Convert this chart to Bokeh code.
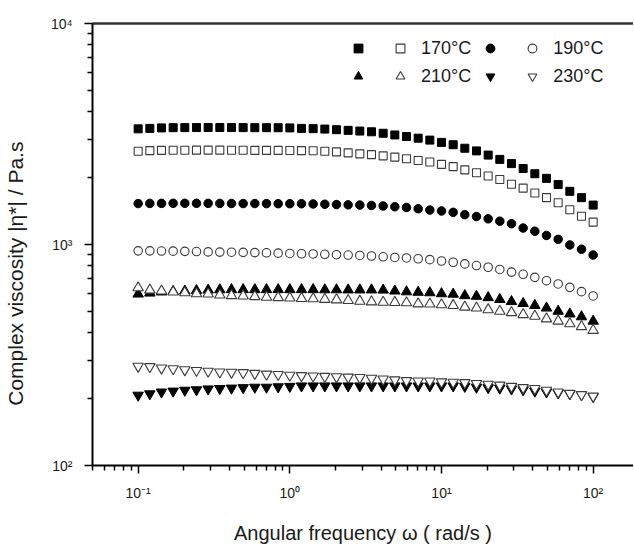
from bokeh.plotting import figure
from bokeh.models import (LogAxis, FixedTicker, CustomJSTickFormatter, Legend,
                          LegendItem, Range1d, ColumnDataSource)
from bokeh.core.properties import value
from bokeh.embed import file_html
from bokeh.resources import INLINE

# ---------------- data ----------------
omega = [0.1, 0.1194, 0.1425, 0.1701, 0.2031, 0.2424, 0.2894, 0.3455, 0.4125, 0.4924,
         0.5878, 0.7017, 0.8377, 1.0, 1.194, 1.425, 1.701, 2.031, 2.424, 2.894,
         3.455, 4.125, 4.924, 5.878, 7.017, 8.377, 10.0, 11.94, 14.25, 17.01,
         20.31, 24.24, 28.94, 34.55, 41.25, 49.24, 58.78, 70.17, 83.77, 100.0]

eta_170_filled = [3336, 3353, 3370, 3378, 3380, 3382, 3384, 3384, 3382, 3380,
                  3378, 3378, 3376, 3370, 3353, 3343, 3329, 3308, 3285, 3261,
                  3236, 3187, 3131, 3081, 3028, 2967, 2898, 2828, 2726, 2652,
                  2538, 2427, 2323, 2207, 2090, 1992, 1868, 1740, 1629, 1508]
eta_170_open = [2644, 2660, 2665, 2668, 2670, 2672, 2672, 2672, 2670, 2668,
                2666, 2665, 2665, 2663, 2660, 2657, 2644, 2625, 2598, 2572,
                2551, 2519, 2486, 2443, 2401, 2362, 2305, 2252, 2177, 2112,
                2040, 1967, 1874, 1799, 1710, 1629, 1544, 1437, 1342, 1262]
eta_190_filled = [1532, 1534, 1535, 1536, 1536, 1536, 1535, 1534, 1533, 1532,
                  1532, 1531, 1530, 1530, 1529, 1526, 1521, 1516, 1512, 1508,
                  1502, 1494, 1482, 1471, 1452, 1432, 1418, 1398, 1365, 1338,
                  1307, 1275, 1242, 1187, 1148, 1099, 1055, 995, 952, 896]
eta_190_open = [936, 936, 934, 933, 931, 929, 926, 924, 923, 921,
                919, 917, 914, 911, 908, 906, 903, 899, 896, 892,
                887, 880, 874, 869, 862, 854, 842, 831, 817, 803,
                789, 771, 750, 733, 710, 686, 663, 640, 612, 585]
eta_210_filled = [597, 603, 610, 613, 616, 619, 622, 624, 625, 625,
                  625, 625, 625, 625, 625, 625, 624, 624, 623, 623,
                  623, 622, 616, 611, 608, 605, 599, 596, 587, 583,
                  575, 564, 552, 541, 530, 516, 499, 485, 471, 450]
eta_210_open = [637, 622, 616, 610, 605, 599, 597, 591, 587, 585,
                581, 577, 575, 573, 570, 568, 565, 562, 558, 554,
                550, 548, 547, 545, 539, 538, 534, 530, 521, 516,
                507, 499, 492, 482, 474, 461, 450, 438, 425, 409]
eta_230_filled = [208, 211, 215, 217, 219, 220, 222, 223, 224, 225,
                  226, 226, 227, 228, 229, 229, 229, 229, 229, 229,
                  229, 229, 229, 229, 229, 229, 229, 229, 228, 226,
                  225, 224, 222, 220, 217, 215, 213, 211, 209, 205]
eta_230_open = [281, 280, 276, 274, 271, 269, 267, 265, 264, 263,
                261, 259, 258, 256, 255, 254, 253, 252, 251, 250,
                248, 246, 244, 242, 241, 241, 239, 238, 237, 235,
                233, 231, 228, 225, 223, 219, 215, 212, 209, 206]

legend_labels = ["170\u00b0C", "190\u00b0C", "210\u00b0C", "230\u00b0C"]
x_major = [0.1, 1, 10, 100]
y_major = [100, 1000, 10000]

# ---------------- figure ----------------
FONT = "Liberation Sans"

p = figure(width=633, height=546, output_backend="svg", toolbar_location=None,
           x_axis_type="log", y_axis_type="log",
           x_range=Range1d(0.05, 184.5), y_range=Range1d(100, 10000),
           min_border_left=84, min_border_right=0, min_border_top=23,
           min_border_bottom=72)
p.outline_line_color = None
p.xgrid.visible = False
p.ygrid.visible = False
p.background_fill_color = "white"
p.border_fill_color = "white"

src = ColumnDataSource(dict(x=omega,
                            s170f=eta_170_filled, s170o=eta_170_open,
                            s190f=eta_190_filled, s190o=eta_190_open,
                            s210f=eta_210_filled, s210o=eta_210_open,
                            s230f=eta_230_filled, s230o=eta_230_open))

OPEN_LINE = "#3a3a3a"
r1f = p.scatter("x", "s170f", source=src, marker="square", size=8,
                fill_color="black", line_color="black")
r1o = p.scatter("x", "s170o", source=src, marker="square", size=8,
                fill_color="white", line_color=OPEN_LINE, line_width=1.1)
r2f = p.scatter("x", "s190f", source=src, marker="circle", size=8.5,
                fill_color="black", line_color="black")
r2o = p.scatter("x", "s190o", source=src, marker="circle", size=8.5,
                fill_color="white", line_color=OPEN_LINE, line_width=1.1)
r3f = p.scatter("x", "s210f", source=src, marker="triangle", size=10.5,
                fill_color="black", line_color="black")
r3o = p.scatter("x", "s210o", source=src, marker="triangle", size=10.5,
                fill_color="white", line_color=OPEN_LINE, line_width=1.1)
r4f = p.scatter("x", "s230f", source=src, marker="inverted_triangle", size=10.5,
                fill_color="black", line_color="black")
r4o = p.scatter("x", "s230o", source=src, marker="inverted_triangle", size=10.5,
                fill_color="white", line_color=OPEN_LINE, line_width=1.1)

# ---------------- axes ----------------
fmt = CustomJSTickFormatter(code="""
const sup = {"-": "\\u207b", "0": "\\u2070", "1": "\\u00b9", "2": "\\u00b2",
             "3": "\\u00b3", "4": "\\u2074", "5": "\\u2075"};
const e = Math.round(Math.log10(tick));
return "10" + String(e).split("").map(c => sup[c]).join("");
""")

x_minor = [m * d for d in (0.01, 0.1, 1, 10) for m in range(2, 10)]
y_minor = [m * d for d in (100, 1000) for m in range(2, 10)]

xa = p.xaxis[0]
xa.ticker = FixedTicker(ticks=x_major, minor_ticks=x_minor)
ya = p.yaxis[0]
ya.ticker = FixedTicker(ticks=y_major, minor_ticks=y_minor)

for ax in (xa, ya):
    ax.formatter = fmt
    ax.axis_line_color = "black"
    ax.axis_line_width = 2
    ax.major_tick_line_color = "black"
    ax.minor_tick_line_color = "black"
    ax.major_tick_line_width = 1.5
    ax.minor_tick_line_width = 1.5
    ax.major_tick_out = 8
    ax.major_tick_in = 0
    ax.minor_tick_out = 5
    ax.minor_tick_in = 0
    ax.major_label_text_font = FONT
    ax.major_label_text_font_size = "14px"
    ax.major_label_text_color = "#1a1a1a"
    ax.axis_label_text_font = FONT
    ax.axis_label_text_font_style = "normal"
    ax.axis_label_text_color = "#1a1a1a"

xa.major_label_standoff = 11
ya.major_label_standoff = 12

xa.axis_label = "Angular frequency \u03c9 ( rad/s )"
xa.axis_label_text_font_size = "20px"
xa.axis_label_standoff = 18
ya.axis_label = "Complex viscosity |\u03b7*| / Pa.s" + "\u00a0" * 10
ya.axis_label_text_font_size = "21px"
ya.axis_label_standoff = 21

top = LogAxis(ticker=FixedTicker(ticks=[], minor_ticks=[]),
              axis_line_color="#333333", axis_line_width=2.5,
              major_tick_line_color=None, minor_tick_line_color=None,
              major_label_text_font_size="0px")
p.add_layout(top, "above")

# ---------------- legend ----------------
items = [
    LegendItem(label=value(""), renderers=[r1f]),
    LegendItem(label=value(legend_labels[0]), renderers=[r1o]),
    LegendItem(label=value(""), renderers=[r2f]),
    LegendItem(label=value(legend_labels[1]), renderers=[r2o]),
    LegendItem(label=value(""), renderers=[r3f]),
    LegendItem(label=value(legend_labels[2]), renderers=[r3o]),
    LegendItem(label=value(""), renderers=[r4f]),
    LegendItem(label=value(legend_labels[3]), renderers=[r4o]),
]
leg = Legend(items=items, location=(253, 378), orientation="horizontal", ncols=4,
             glyph_width=26, glyph_height=22, label_width=2, label_height=20,
             label_standoff=8, spacing=6, padding=0, margin=0,
             border_line_color=None, background_fill_alpha=0,
             label_text_font=FONT, label_text_font_size="18px",
             label_text_color="#1a1a1a")
p.add_layout(leg, "center")

open("out.html", "w").write(file_html(p, INLINE))
